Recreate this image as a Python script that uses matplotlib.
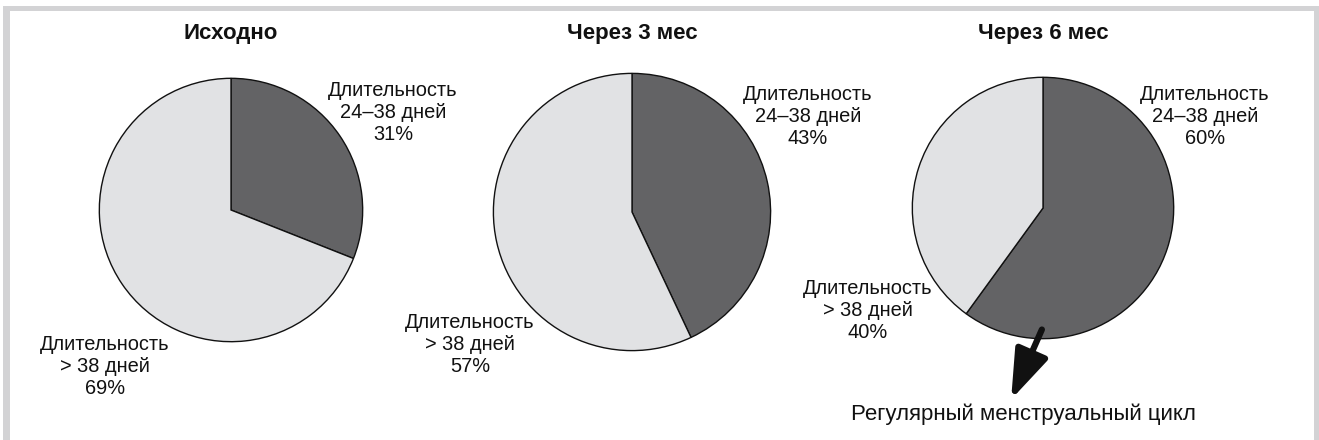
import matplotlib
matplotlib.use("Agg")
import matplotlib.pyplot as plt
from matplotlib.patches import Rectangle, FancyArrowPatch

plt.rcParams['font.family'] = ['Liberation Sans', 'DejaVu Sans']

# data
titles = ['Исходно', 'Через 3 мес', 'Через 6 мес']
regular_pct = [31, 43, 60]
long_pct = [69, 57, 40]
regular_label = 'Длительность\n24–38 дней'
long_label = 'Длительность\n> 38 дней'
arrow_note = 'Регулярный менструальный цикл'

W, H = 1319, 440
dark = '#636365'
light = '#e1e2e4'

fig = plt.figure(figsize=(W / 100, H / 100), dpi=100)
fig.patch.set_facecolor('white')

# gray frame
frame = '#d3d3d5'
fig.add_artist(Rectangle((3 / W, 0), 7 / W, (H - 6) / H, transform=fig.transFigure, color=frame, lw=0))
fig.add_artist(Rectangle((3 / W, (H - 11) / H), (W - 3) / W, 5 / H, transform=fig.transFigure, color=frame, lw=0))
fig.add_artist(Rectangle((1314 / W, 0), 5 / W, (H - 6) / H, transform=fig.transFigure, color=frame, lw=0))

# pie centres and radii in pixels
centers = [(231, 210, 133), (632, 212, 140), (1043, 208, 132)]
reg_pos = [(393, 113), (808, 116), (1205, 116)]
long_pos = [(105, 366), (470, 345), (868, 310)]
title_x = [231, 632, 1043]

for i in range(3):
    cx, cy, r = centers[i]
    ax = fig.add_axes([(cx - r) / W, (H - cy - r) / H, 2 * r / W, 2 * r / H])
    ax.pie([regular_pct[i], long_pct[i]], colors=[dark, light], startangle=90,
           counterclock=False, radius=1,
           wedgeprops=dict(edgecolor='#111111', linewidth=1.0))
    ax.set_xlim(-1.01, 1.01)
    ax.set_ylim(-1.01, 1.01)
    ax.set_aspect('auto')
    ax.axis('off')

    fig.text(title_x[i] / W, 1 - 33 / H, titles[i], ha='center', va='center',
             fontsize=16, fontweight='bold', color='#111111')
    x, y = reg_pos[i]
    fig.text(x / W, 1 - y / H, f'{regular_label}\n{regular_pct[i]}%', ha='center', va='center',
             fontsize=14.4, color='#111111', linespacing=1.2)
    x, y = long_pos[i]
    fig.text(x / W, 1 - y / H, f'{long_label}\n{long_pct[i]}%', ha='center', va='center',
             fontsize=14.4, color='#111111', linespacing=1.2)

# arrow from the third pie
fig.add_artist(FancyArrowPatch(
    (1043 / W, 1 - 327 / H), (1010 / W, 1 - 402 / H), transform=fig.transFigure,
    arrowstyle='-|>,head_length=20,head_width=7', mutation_scale=1.5,
    color='#111111', lw=4.5))
fig.text(1023 / W, 1 - 414 / H, arrow_note, ha='center', va='center',
         fontsize=16, color='#111111')

fig.savefig('out.png', dpi=100)
